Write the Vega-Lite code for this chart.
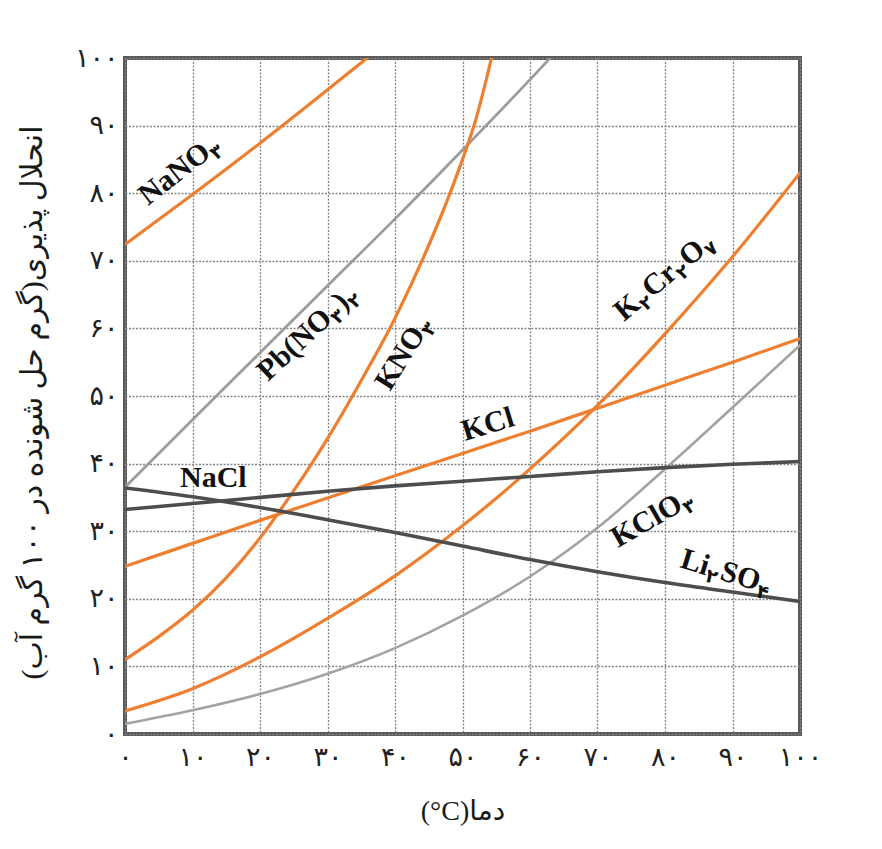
{
  "$schema": "https://vega.github.io/schema/vega-lite/v6.json",
  "width": 675,
  "height": 676,
  "autosize": {"type": "none"},
  "padding": {"left": 125, "top": 58, "right": 82, "bottom": 115},
  "background": "white",
  "config": {
    "view": {"stroke": "#595959", "strokeWidth": 4},
    "axis": {
      "grid": true,
      "gridColor": "#858585",
      "gridDash": [2, 1.5],
      "gridWidth": 1.3,
      "domain": false,
      "ticks": false,
      "labelFont": "DejaVu Sans",
      "labelFontSize": 27,
      "labelColor": "#222222",
      "titleFont": "Liberation Serif, DejaVu Sans",
      "titleFontWeight": "normal",
      "titleColor": "#1a1a1a"
    }
  },
  "datasets": {
    "curves": [
      {"name": "NaNO3", "t": 0, "s": 72.4}, {"name": "NaNO3", "t": 10, "s": 79.8}, {"name": "NaNO3", "t": 20, "s": 87.4}, {"name": "NaNO3", "t": 30, "s": 95.3}, {"name": "NaNO3", "t": 36, "s": 100.1},
      {"name": "Pb(NO3)2", "t": 0, "s": 36.5}, {"name": "Pb(NO3)2", "t": 10, "s": 46.5}, {"name": "Pb(NO3)2", "t": 20, "s": 56.4}, {"name": "Pb(NO3)2", "t": 30, "s": 66.3}, {"name": "Pb(NO3)2", "t": 40, "s": 76.2}, {"name": "Pb(NO3)2", "t": 50, "s": 86.4}, {"name": "Pb(NO3)2", "t": 60, "s": 96.8}, {"name": "Pb(NO3)2", "t": 63, "s": 100},
      {"name": "KNO3", "t": 0, "s": 11}, {"name": "KNO3", "t": 5, "s": 14.4}, {"name": "KNO3", "t": 10, "s": 18.3}, {"name": "KNO3", "t": 15, "s": 23.1}, {"name": "KNO3", "t": 20, "s": 29}, {"name": "KNO3", "t": 25, "s": 36}, {"name": "KNO3", "t": 30, "s": 43.7}, {"name": "KNO3", "t": 35, "s": 52.3}, {"name": "KNO3", "t": 40, "s": 61.5}, {"name": "KNO3", "t": 45, "s": 72.3}, {"name": "KNO3", "t": 48, "s": 79.6}, {"name": "KNO3", "t": 50, "s": 85}, {"name": "KNO3", "t": 52, "s": 91}, {"name": "KNO3", "t": 54.3, "s": 100},
      {"name": "K2Cr2O7", "t": 0, "s": 3.4}, {"name": "K2Cr2O7", "t": 10, "s": 6.7}, {"name": "K2Cr2O7", "t": 20, "s": 11.4}, {"name": "K2Cr2O7", "t": 30, "s": 17.1}, {"name": "K2Cr2O7", "t": 40, "s": 23.4}, {"name": "K2Cr2O7", "t": 50, "s": 30.8}, {"name": "K2Cr2O7", "t": 60, "s": 39.2}, {"name": "K2Cr2O7", "t": 70, "s": 48.6}, {"name": "K2Cr2O7", "t": 80, "s": 59.2}, {"name": "K2Cr2O7", "t": 90, "s": 70.6}, {"name": "K2Cr2O7", "t": 100, "s": 83},
      {"name": "KCl", "t": 0, "s": 24.8}, {"name": "KCl", "t": 10, "s": 28.2}, {"name": "KCl", "t": 20, "s": 31.6}, {"name": "KCl", "t": 30, "s": 34.9}, {"name": "KCl", "t": 40, "s": 38.2}, {"name": "KCl", "t": 50, "s": 41.5}, {"name": "KCl", "t": 60, "s": 44.8}, {"name": "KCl", "t": 70, "s": 48.2}, {"name": "KCl", "t": 80, "s": 51.6}, {"name": "KCl", "t": 90, "s": 55}, {"name": "KCl", "t": 100, "s": 58.5},
      {"name": "KClO3", "t": 0, "s": 1.5}, {"name": "KClO3", "t": 10, "s": 3.5}, {"name": "KClO3", "t": 20, "s": 5.9}, {"name": "KClO3", "t": 30, "s": 8.9}, {"name": "KClO3", "t": 40, "s": 12.7}, {"name": "KClO3", "t": 50, "s": 17.5}, {"name": "KClO3", "t": 60, "s": 23.3}, {"name": "KClO3", "t": 70, "s": 30.5}, {"name": "KClO3", "t": 80, "s": 39.2}, {"name": "KClO3", "t": 90, "s": 48.3}, {"name": "KClO3", "t": 100, "s": 57.5},
      {"name": "NaCl", "t": 0, "s": 33.2}, {"name": "NaCl", "t": 10, "s": 34.1}, {"name": "NaCl", "t": 20, "s": 35}, {"name": "NaCl", "t": 30, "s": 35.9}, {"name": "NaCl", "t": 40, "s": 36.7}, {"name": "NaCl", "t": 50, "s": 37.4}, {"name": "NaCl", "t": 60, "s": 38.1}, {"name": "NaCl", "t": 70, "s": 38.8}, {"name": "NaCl", "t": 80, "s": 39.4}, {"name": "NaCl", "t": 90, "s": 39.9}, {"name": "NaCl", "t": 100, "s": 40.3},
      {"name": "Li2SO4", "t": 0, "s": 36.4}, {"name": "Li2SO4", "t": 10, "s": 35.1}, {"name": "Li2SO4", "t": 20, "s": 33.5}, {"name": "Li2SO4", "t": 30, "s": 31.7}, {"name": "Li2SO4", "t": 40, "s": 29.8}, {"name": "Li2SO4", "t": 50, "s": 27.8}, {"name": "Li2SO4", "t": 60, "s": 25.8}, {"name": "Li2SO4", "t": 70, "s": 24}, {"name": "Li2SO4", "t": 80, "s": 22.4}, {"name": "Li2SO4", "t": 90, "s": 21}, {"name": "Li2SO4", "t": 100, "s": 19.6}
    ],
    "labels": [
      {"name": "NaNO3", "part": "NaNO", "role": "main", "t": 3.41, "s": 78.1},
      {"name": "NaNO3", "part": "۳", "role": "sub", "t": 13.48, "s": 84.85},
      {"name": "Pb(NO3)2", "part": "Pb(NO", "role": "main", "t": 21.19, "s": 52.07},
      {"name": "Pb(NO3)2", "part": "۳", "role": "sub", "t": 31.53, "s": 60.5},
      {"name": "Pb(NO3)2", "part": ")", "role": "main", "t": 32.36, "s": 62.49},
      {"name": "Pb(NO3)2", "part": "۲", "role": "sub", "t": 34.04, "s": 62.84},
      {"name": "KNO3", "part": "KNO", "role": "main", "t": 39.26, "s": 50.59},
      {"name": "KNO3", "part": "۳", "role": "sub", "t": 45.38, "s": 58.7},
      {"name": "KCl", "part": "KCl", "role": "main", "t": 50.37, "s": 43.34},
      {"name": "NaCl", "part": "NaCl", "role": "main", "t": 8.15, "s": 36.54},
      {"name": "K2Cr2O7", "part": "K", "role": "main", "t": 73.93, "s": 60.95},
      {"name": "K2Cr2O7", "part": "۲", "role": "sub", "t": 77.15, "s": 62.49},
      {"name": "K2Cr2O7", "part": "Cr", "role": "main", "t": 78.07, "s": 64.42},
      {"name": "K2Cr2O7", "part": "۲", "role": "sub", "t": 82.61, "s": 67.07},
      {"name": "K2Cr2O7", "part": "O", "role": "main", "t": 83.54, "s": 69.01},
      {"name": "K2Cr2O7", "part": "۷", "role": "sub", "t": 86.76, "s": 70.54},
      {"name": "KClO3", "part": "KClO", "role": "main", "t": 73.04, "s": 27.51},
      {"name": "KClO3", "part": "۳", "role": "sub", "t": 83.32, "s": 32.42},
      {"name": "Li2SO4", "part": "Li", "role": "main", "t": 82.07, "s": 24.7},
      {"name": "Li2SO4", "part": "۲", "role": "sub", "t": 85.83, "s": 22.63},
      {"name": "Li2SO4", "part": "SO", "role": "main", "t": 87.96, "s": 22.91},
      {"name": "Li2SO4", "part": "۴", "role": "sub", "t": 93.37, "s": 20.33}
    ]
  },
  "layer": [
    {
      "data": {"name": "curves"},
      "mark": {"type": "line", "interpolate": "monotone", "strokeCap": "round", "clip": true},
      "encoding": {
        "x": {
          "field": "t", "type": "quantitative",
          "scale": {"domain": [0, 100], "nice": false},
          "axis": {
            "values": [0, 10, 20, 30, 40, 50, 60, 70, 80, 90, 100],
            "labelExpr": "['۰','۱۰','۲۰','۳۰','۴۰','۵۰','۶۰','۷۰','۸۰','۹۰','۱۰۰'][round(datum.value/10)]",
            "labelPadding": 10,
            "labelFlush": false,
            "title": "(°C)دما",
            "titleFontSize": 28,
            "titleY": 77,
            "titleBaseline": "middle",
            "titleAlign": "center"
          }
        },
        "y": {
          "field": "s", "type": "quantitative",
          "scale": {"domain": [0, 100], "nice": false},
          "axis": {
            "values": [0, 10, 20, 30, 40, 50, 60, 70, 80, 90, 100],
            "labelExpr": "['۰','۱۰','۲۰','۳۰','۴۰','۵۰','۶۰','۷۰','۸۰','۹۰','۱۰۰'][round(datum.value/10)]",
            "labelPadding": 7,
            "labelFlush": false,
            "title": "‏انحلال پذیری(گرم حل شونده در ۱۰۰ گرم آب)‏",
            "titleFontSize": 30,
            "titleAngle": -90,
            "titleX": -93,
            "titleY": 344,
            "titleBaseline": "middle",
            "titleAlign": "center"
          }
        },
        "detail": {"field": "name"},
        "color": {
          "field": "name", "type": "nominal", "legend": null,
          "scale": {
            "domain": ["NaNO3", "Pb(NO3)2", "KNO3", "K2Cr2O7", "KCl", "KClO3", "NaCl", "Li2SO4"],
            "range": ["#EE7F30", "#9c9c9c", "#EE7F30", "#EE7F30", "#EE7F30", "#a3a3a3", "#4d4d4d", "#4d4d4d"]
          }
        },
        "strokeWidth": {
          "field": "name", "type": "nominal", "legend": null,
          "scale": {
            "type": "ordinal",
            "domain": ["NaNO3", "Pb(NO3)2", "KNO3", "K2Cr2O7", "KCl", "KClO3", "NaCl", "Li2SO4"],
            "range": [3.2, 2.8, 3.2, 3.2, 3.2, 2.6, 3.6, 3.6]
          }
        }
      }
    },
    {
      "data": {"name": "labels"},
      "mark": {"type": "text", "font": "Liberation Serif, DejaVu Sans", "fontWeight": "bold", "color": "#111111", "align": "left", "baseline": "alphabetic"},
      "encoding": {
        "x": {"field": "t", "type": "quantitative"},
        "y": {"field": "s", "type": "quantitative"},
        "text": {"field": "part"},
        "size": {
          "field": "role", "type": "nominal", "legend": null,
          "scale": {"type": "ordinal", "domain": ["main", "sub"], "range": [30, 19]}
        },
        "angle": {
          "field": "name", "type": "nominal", "legend": null,
          "scale": {
            "type": "ordinal",
            "domain": ["NaNO3", "Pb(NO3)2", "KNO3", "K2Cr2O7", "KCl", "KClO3", "NaCl", "Li2SO4"],
            "range": [322, 317, 302, 320, 343, 330, 0, 17]
          }
        }
      }
    }
  ]
}
